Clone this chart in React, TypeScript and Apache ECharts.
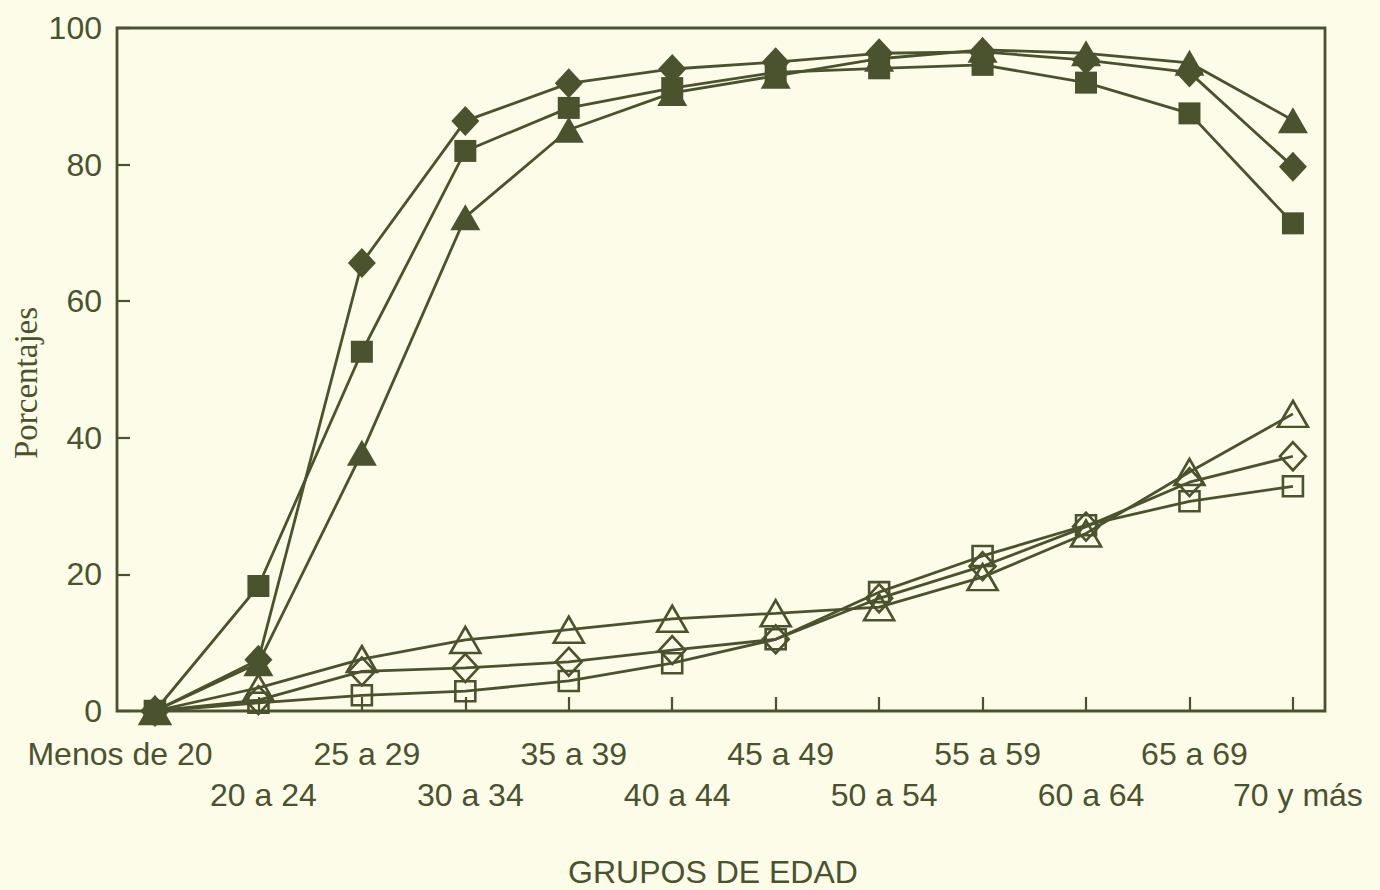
import React, { useEffect, useRef } from "react";
import * as echarts from "echarts";

const categories = [
  "Menos de 20", "20 a 24", "25 a 29", "30 a 34", "35 a 39", "40 a 44",
  "45 a 49", "50 a 54", "55 a 59", "60 a 64", "65 a 69", "70 y más",
];
const filledDiamond = [0, 7.5, 65.6, 86.4, 91.9, 94.0, 95.0, 96.3, 96.5, 95.3, 93.5, 79.7];
const filledSquare = [0, 18.3, 52.6, 82.0, 88.3, 91.2, 93.5, 94.1, 94.6, 92.0, 87.5, 71.4];
const filledTriangle = [0, 7.0, 37.8, 72.3, 85.1, 90.5, 93.0, 95.5, 96.8, 96.3, 94.9, 86.5];
const openTriangle = [0, 3.4, 7.6, 10.4, 11.9, 13.5, 14.3, 15.2, 19.6, 26.0, 35.0, 43.5];
const openDiamond = [0, 1.6, 5.8, 6.3, 7.2, 8.9, 10.5, 16.5, 21.2, 27.0, 33.5, 37.3];
const openSquare = [0, 1.2, 2.3, 2.9, 4.4, 7.0, 10.5, 17.4, 22.7, 27.2, 30.7, 32.9];
const yTicks = [0, 20, 40, 60, 80, 100];

const INK = "#4b522e";
const BG = "#fcfce8";
const SANS = "'Liberation Sans', Arial, sans-serif";
const FS = 32;

export default function App() {
  const ref = useRef<HTMLDivElement>(null);
  useEffect(() => {
    document.body.style.margin = "0";
    const chart = echarts.init(ref.current!, null, { renderer: "svg" });
    const idx = categories.map((_, i) => i);
    const evenIdx = idx.filter((i) => i % 2 === 0);
    const oddIdx = idx.filter((i) => i % 2 === 1);
    const pts = (arr: number[]) => arr.map((v, i) => [i, v]);
    const filled = (name: string, arr: number[], symbol: string, size: any) => ({
      name, type: "line", data: pts(arr), symbol, symbolSize: size, xAxisIndex: 0,
      lineStyle: { color: INK, width: 2.8 },
      itemStyle: { color: INK, borderWidth: 0 },
      z: 3,
    });
    const open = (name: string, arr: number[], symbol: string, size: any) => ({
      name, type: "line", data: pts(arr), symbol, symbolSize: size, xAxisIndex: 0,
      lineStyle: { color: INK, width: 2.8 },
      itemStyle: { color: "rgba(0,0,0,0)", borderColor: INK, borderWidth: 2.6 },
      z: 2,
    });
    const labelFmt = (v: number) => {
      const i = Math.round(v);
      return i === 0 ? `{m|${categories[i]}}` : `{a|${categories[i]}}`;
    };
    const rich = {
      a: { fontFamily: SANS, fontSize: FS, color: INK, padding: [0, 0, 0, 10] },
      m: { fontFamily: SANS, fontSize: FS, color: INK, padding: [0, 70, 0, 0] },
    };
    chart.setOption({
      animation: false,
      backgroundColor: BG,
      grid: {
        left: 117, top: 28, width: 1208, height: 683,
        show: true, borderColor: INK, borderWidth: 2.8, backgroundColor: "transparent",
      },
      xAxis: [
        {
          type: "value", min: -0.367, max: 11.31, position: "bottom",
          axisLine: { show: false, onZero: false },
          splitLine: { show: false },
          axisTick: {
            show: true, inside: true, length: 14, customValues: idx,
            lineStyle: { color: INK, width: 2.2 },
          },
          axisLabel: {
            customValues: evenIdx, margin: 27, color: INK, fontFamily: SANS, fontSize: FS,
            showMinLabel: true, showMaxLabel: true,
            formatter: labelFmt, rich,
          },
        },
        {
          type: "value", min: -0.367, max: 11.31, position: "bottom",
          axisLine: { show: false, onZero: false },
          splitLine: { show: false },
          axisTick: { show: false },
          axisLabel: {
            customValues: oddIdx, margin: 68, color: INK, fontFamily: SANS, fontSize: FS,
            showMinLabel: true, showMaxLabel: true,
            formatter: labelFmt, rich,
          },
        },
      ],
      yAxis: {
        type: "value", min: 0, max: 100, interval: 20,
        axisLine: { show: false, onZero: false },
        splitLine: { show: false },
        axisTick: { show: true, inside: true, length: 13, lineStyle: { color: INK, width: 2.2 } },
        axisLabel: {
          margin: 15, color: INK, fontFamily: SANS, fontSize: FS,
          formatter: (v: number) => (yTicks.includes(v) ? String(v) : ""),
        },
      },
      graphic: [
        {
          type: "text", x: 713, y: 872,
          style: {
            text: "GRUPOS DE EDAD", fill: INK, font: `${FS}px ${SANS}`,
            textAlign: "center", textVerticalAlign: "middle",
          },
        },
        {
          type: "text", x: 26, y: 383, rotation: Math.PI / 2,
          style: {
            text: "Porcentajes", fill: INK, font: "33px 'Liberation Serif', 'Times New Roman', serif",
            textAlign: "center", textVerticalAlign: "middle",
          },
        },
      ],
      series: [
        open("Triángulo abierto", openTriangle, "triangle", [30, 26]),
        open("Rombo abierto", openDiamond, "diamond", [26, 28]),
        open("Cuadrado abierto", openSquare, "rect", [20, 20]),
        filled("Cuadrado", filledSquare, "rect", [22, 22]),
        filled("Triángulo", filledTriangle, "triangle", [30, 26]),
        filled("Rombo", filledDiamond, "diamond", [28, 30]),
      ],
    });
    return () => chart.dispose();
  }, []);
  return <div ref={ref} style={{ width: 1380, height: 890 }} />;
}
